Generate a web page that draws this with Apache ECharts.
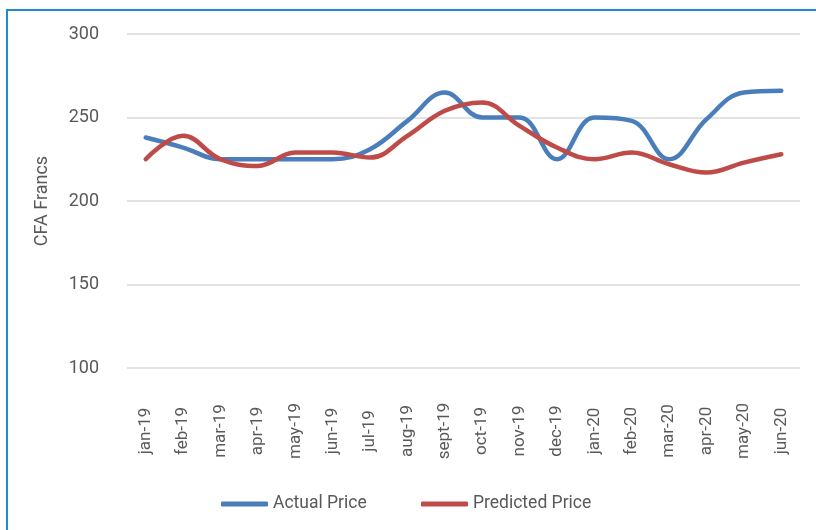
<!DOCTYPE html>
<html>
<head>
<meta charset="utf-8">
<script src="https://cdn.jsdelivr.net/npm/echarts@6/dist/echarts.min.js"></script>
<style>
html,body{margin:0;padding:0;background:#fff;}
#c{width:816px;height:530px;}
</style>
</head>
<body>
<div id="c"></div>
<script>
var categories = ['jan-19','feb-19','mar-19','apr-19','may-19','jun-19','jul-19','aug-19','sept-19','oct-19','nov-19','dec-19','jan-20','feb-20','mar-20','apr-20','may-20','jun-20'];
var actualPrice = [238, 232, 225, 225, 225, 225, 231, 248, 265, 250, 250, 225, 250, 248, 225, 249, 265, 266];
var predictedPrice = [225, 239, 225, 221, 229, 229, 226, 239, 254, 259, 245, 232, 225, 229, 222, 217, 223, 228];
var yTicks = [100, 150, 200, 250, 300];

var FONT = 'Roboto, sans-serif';
var TXT = '#595959';
var chart = echarts.init(document.getElementById('c'), null, {renderer: 'canvas'});
chart.setOption({
  animation: false,
  backgroundColor: '#ffffff',
  textStyle: {fontFamily: FONT},
  graphic: [{
    type: 'rect',
    shape: {x: 7, y: 10, width: 900, height: 700},
    style: {fill: 'none', stroke: '#2288d0', lineWidth: 2},
    silent: true, z: 100
  }],
  grid: {left: 127, right: 16, top: 34, bottom: 162},
  legend: [{
    data: ['Actual Price'],
    left: 216, top: 490,
    itemWidth: 47, itemHeight: 5, icon: 'roundRect',
    textStyle: {fontFamily: FONT, fontSize: 17.5, color: TXT}
  }, {
    data: ['Predicted Price'],
    left: 416, top: 490,
    itemWidth: 47, itemHeight: 5, icon: 'roundRect',
    textStyle: {fontFamily: FONT, fontSize: 17.5, color: TXT}
  }],
  xAxis: {
    type: 'category',
    data: categories,
    boundaryGap: true,
    axisLine: {show: false},
    axisTick: {show: false},
    axisLabel: {rotate: 90, align: 'center', margin: 63, interval: 0, fontFamily: FONT, fontSize: 17, color: TXT}
  },
  yAxis: {
    type: 'value',
    min: yTicks[0], max: yTicks[yTicks.length - 1], interval: 50,
    name: 'CFA Francs',
    nameLocation: 'middle',
    nameGap: 76,
    nameTextStyle: {fontFamily: FONT, fontSize: 18, color: TXT},
    axisLine: {show: false},
    axisTick: {show: false},
    axisLabel: {margin: 28, fontFamily: FONT, fontSize: 18, color: TXT},
    splitLine: {lineStyle: {color: '#d9d9d9', width: 1.5}}
  },
  series: [{
    name: 'Actual Price',
    type: 'line',
    data: actualPrice,
    smooth: 0.4,
    showSymbol: false,
    lineStyle: {color: '#4a7ebb', width: 4.5, cap: 'round'},
    itemStyle: {color: '#4a7ebb'}
  }, {
    name: 'Predicted Price',
    type: 'line',
    data: predictedPrice,
    smooth: 0.4,
    showSymbol: false,
    lineStyle: {color: '#be4b48', width: 4.5, cap: 'round'},
    itemStyle: {color: '#be4b48'}
  }]
});
</script>
</body>
</html>
